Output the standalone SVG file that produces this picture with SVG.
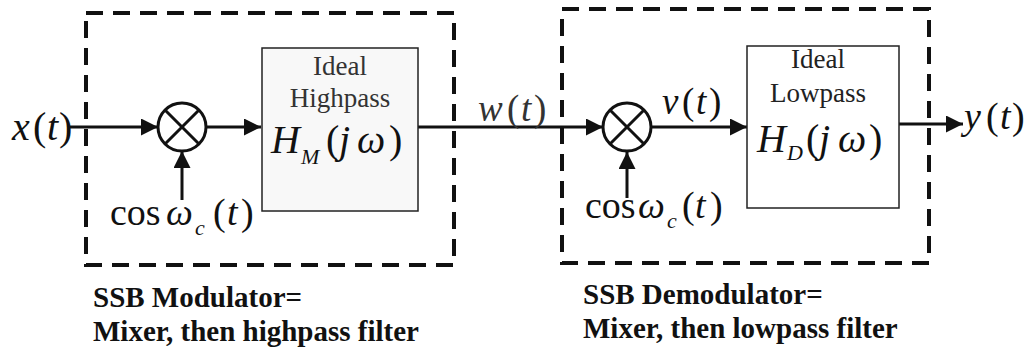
<svg xmlns="http://www.w3.org/2000/svg" width="1027" height="354" viewBox="0 0 1027 354">
<style>
.dash{fill:none;stroke:#111;stroke-width:4;stroke-dasharray:17 10}
.box{stroke:#222;stroke-width:1.5}
.sig{stroke:#111;stroke-width:3;fill:none}
.mix{fill:#fff;stroke:#111;stroke-width:3}
.cross{stroke:#111;stroke-width:3}
</style>
<defs>
<marker id="ah" markerUnits="userSpaceOnUse" markerWidth="18" markerHeight="18" refX="17" refY="8.5" orient="auto">
<path d="M0,0 L17,8.5 L0,17 z" fill="#111"/>
</marker>
</defs>
<rect width="1027" height="354" fill="#fff"/>

<g id="boundaries">
<rect id="modulator-boundary" class="dash" x="86" y="13" width="368" height="252"/>
<rect id="demodulator-boundary" class="dash" x="562" y="9" width="367" height="254"/>
</g>

<g id="connectors">
<line class="sig" x1="70" y1="127" x2="158" y2="127" marker-end="url(#ah)"/>
<line class="sig" x1="182" y1="200" x2="182" y2="151" marker-end="url(#ah)"/>
<line class="sig" x1="206" y1="127" x2="261" y2="127" marker-end="url(#ah)"/>
<line class="sig" x1="418" y1="127" x2="603" y2="127" marker-end="url(#ah)" stroke="#1c2a1c"/>
<line class="sig" x1="627" y1="198" x2="627" y2="152" marker-end="url(#ah)"/>
<line class="sig" x1="651" y1="127" x2="747" y2="127" marker-end="url(#ah)"/>
<line class="sig" x1="899" y1="124" x2="963" y2="124" marker-end="url(#ah)"/>
</g>

<g id="mixer1">
<circle class="mix" cx="182" cy="127" r="24"/>
<line class="cross" x1="165" y1="110" x2="199" y2="144"/>
<line class="cross" x1="199" y1="110" x2="165" y2="144"/>
</g>

<g id="mixer2">
<circle class="mix" cx="627" cy="127" r="24"/>
<line class="cross" x1="610" y1="110" x2="644" y2="144"/>
<line class="cross" x1="644" y1="110" x2="610" y2="144"/>
</g>

<g id="highpass">
<rect class="box" x="262" y="48" width="156" height="163" fill="#f8f8f8"/>
<text font-family="Liberation Serif" x="340" y="75" text-anchor="middle" fill="#333" font-size="27">Ideal</text>
<text font-family="Liberation Serif" x="340" y="107" text-anchor="middle" fill="#333" font-size="27">Highpass</text>
<text font-family="Liberation Serif" font-style="italic" fill="#111" font-size="40"><tspan x="271" y="153">H</tspan><tspan x="301" y="164" font-size="22">M</tspan><tspan font-style="normal" x="326" y="153">(</tspan><tspan x="339" y="153">j</tspan><tspan x="357" y="153">ω</tspan><tspan font-style="normal" x="389" y="153">)</tspan></text>
</g>

<g id="lowpass">
<rect class="box" x="747" y="46" width="152" height="162" fill="#fff"/>
<text font-family="Liberation Serif" x="818" y="68" text-anchor="middle" fill="#222" font-size="27">Ideal</text>
<text font-family="Liberation Serif" x="818" y="102" text-anchor="middle" fill="#222" font-size="27">Lowpass</text>
<text font-family="Liberation Serif" font-style="italic" fill="#111" font-size="40"><tspan x="757" y="152">H</tspan><tspan x="787" y="160" font-size="22">D</tspan><tspan font-style="normal" x="806" y="152">(</tspan><tspan x="819" y="152">j</tspan><tspan x="838" y="152">ω</tspan><tspan font-style="normal" x="869" y="152">)</tspan></text>
</g>

<g id="signal-labels" font-style="italic" fill="#111">
<text font-family="Liberation Serif" font-size="40"><tspan x="12" y="140">x</tspan><tspan font-style="normal" x="33" y="140">(</tspan><tspan x="47" y="140">t</tspan><tspan font-style="normal" x="59" y="140">)</tspan></text>
<text font-family="Liberation Serif" font-size="38"><tspan font-style="normal" x="110" y="225">cos</tspan><tspan x="166" y="225">ω</tspan><tspan x="195" y="235" font-size="22">c</tspan><tspan font-style="normal" x="213" y="225">(</tspan><tspan x="227" y="225">t</tspan><tspan font-style="normal" x="241" y="225">)</tspan></text>
<text font-family="Liberation Serif" font-size="37" fill="#333"><tspan x="478" y="121">w</tspan><tspan font-style="normal" x="507" y="121">(</tspan><tspan x="521" y="121">t</tspan><tspan font-style="normal" x="534" y="121">)</tspan></text>
<text font-family="Liberation Serif" font-size="37"><tspan x="662" y="114">v</tspan><tspan font-style="normal" x="682" y="114">(</tspan><tspan x="696" y="114">t</tspan><tspan font-style="normal" x="709" y="114">)</tspan></text>
<text font-family="Liberation Serif" font-size="38"><tspan font-style="normal" x="585" y="218">cos</tspan><tspan x="638" y="218">ω</tspan><tspan x="667" y="228" font-size="22">c</tspan><tspan font-style="normal" x="682" y="218">(</tspan><tspan x="695" y="218">t</tspan><tspan font-style="normal" x="710" y="218">)</tspan></text>
<text font-family="Liberation Serif" font-size="38"><tspan x="964" y="129">y</tspan><tspan font-style="normal" x="986" y="129">(</tspan><tspan x="1000" y="129">t</tspan><tspan font-style="normal" x="1012" y="129">)</tspan></text>
</g>

<g id="captions" font-size="29" font-weight="bold" fill="#111">
<text font-family="Liberation Serif" x="93" y="307">SSB Modulator=</text>
<text font-family="Liberation Serif" x="93" y="341">Mixer, then highpass filter</text>
<text font-family="Liberation Serif" x="583" y="304">SSB Demodulator=</text>
<text font-family="Liberation Serif" x="583" y="338">Mixer, then lowpass filter</text>
</g>
</svg>
